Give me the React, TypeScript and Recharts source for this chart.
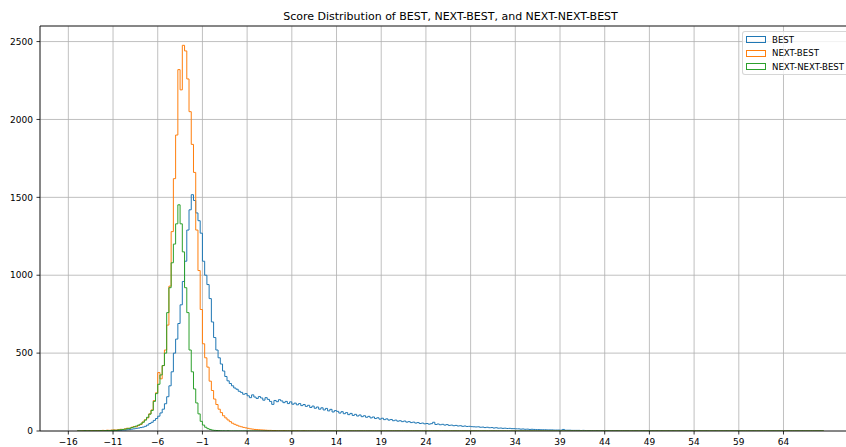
import React from 'react';
import { LineChart, Line, XAxis, YAxis, CartesianGrid, ReferenceLine } from 'recharts';

// Histogram bins shared by all three series: left edge of bin i is BIN_START + i * BIN_WIDTH
const BIN_START = -15;
const BIN_WIDTH = 0.25;

// Counts per bin for the best score
const BEST = [
  0, 0, 0, 1, 0, 1, 1, 0, 1, 1,
  2, 1, 2, 2, 3, 2, 3, 4, 4, 5,
  6, 6, 8, 9, 12, 14, 17, 19, 22, 25,
  30, 38, 48, 56, 68, 80, 95, 116, 140, 175,
  220, 290, 380, 500, 590, 690, 810, 960, 1090, 1290,
  1420, 1517, 1480, 1400, 1350, 1270, 1090, 1000, 940, 850,
  700, 600, 520, 470, 430, 385, 350, 322, 305, 290,
  276, 268, 255, 248, 236, 240, 226, 214, 232, 218,
  209, 221, 212, 198, 214, 203, 190, 171, 196, 188,
  201, 193, 182, 190, 176, 187, 172, 179, 168, 176,
  163, 170, 158, 165, 151, 160, 146, 154, 140, 149,
  135, 145, 129, 139, 122, 131, 126, 115, 124, 111,
  118, 105, 113, 100, 107, 96, 103, 92, 98, 88,
  94, 84, 90, 80, 85, 76, 82, 73, 78, 70,
  74, 66, 70, 63, 66, 60, 64, 57, 60, 54,
  57, 51, 54, 48, 51, 46, 48, 44, 47, 56,
  42, 45, 40, 43, 38, 41, 36, 38, 34, 36,
  32, 34, 30, 32, 29, 30, 28, 27, 26, 27,
  24, 25, 22, 24, 21, 22, 19, 21, 18, 19,
  17, 18, 16, 17, 15, 15, 14, 14, 12, 13,
  11, 12, 10, 11, 10, 9, 9, 8, 8, 8,
  7, 7, 7, 6, 6, 6, 5, 10, 5, 5,
  5, 4, 4, 4, 4, 3, 4, 3, 3, 3,
  3, 2, 3, 2, 2, 2, 2, 2, 1, 2,
  1, 2, 1, 1, 1, 1, 1, 0, 1, 1,
  1, 0, 1, 1, 0, 1, 0, 1, 0, 1,
  0, 1, 0, 0, 1, 0, 1, 0, 0, 1,
  0, 0, 1, 0, 1, 0, 0, 0, 1, 0,
  0, 1, 0, 0, 0, 1, 0, 0, 0, 0,
  1, 0, 0, 0, 0, 1, 0, 0, 0, 0,
  0, 0, 1, 0, 0, 0, 0, 0, 0, 0,
  0, 1, 0, 0, 0, 0, 0, 0, 0, 0,
  0, 0, 0, 0, 1, 0, 0, 0, 0, 0,
  0, 0, 1, 0,
];

// Counts per bin for the second-best score (bins past the end are empty)
const NEXT_BEST = [
  0, 0, 1, 0, 1, 1, 2, 1, 2, 3,
  2, 4, 3, 5, 4, 6, 7, 6, 9, 11,
  10, 14, 18, 16, 24, 29, 27, 36, 42, 58,
  72, 84, 110, 135, 195, 245, 375, 335, 420, 520,
  680, 930, 1280, 1620, 1900, 2320, 2190, 2476, 2440, 2260,
  2050, 1840, 1660, 1290, 1030, 780, 560, 470, 410, 320,
  260, 205, 170, 140, 118, 98, 84, 71, 60, 50,
  43, 37, 31, 27, 23, 20, 17, 14, 12, 10,
  9, 8, 7, 6, 5, 4, 4, 3, 3, 2,
  2, 1, 2, 1, 1, 0, 1, 0, 1, 0,
  0, 1, 0, 0,
];

// Counts per bin for the third-best score (bins past the end are empty)
const NEXT_NEXT_BEST = [
  0, 0, 0, 1, 0, 1, 0, 1, 1, 1,
  2, 1, 2, 3, 2, 4, 5, 4, 7, 8,
  10, 12, 15, 18, 22, 26, 32, 38, 45, 56,
  70, 88, 108, 132, 190, 240, 300, 360, 420, 500,
  760, 920, 1080, 1200, 1330, 1452, 1330, 1150, 920, 760,
  520, 380, 270, 180, 110, 62, 38, 24, 15, 10,
  6, 4, 3, 2, 1, 1, 0, 1, 0, 0,
];

const X_TICKS = [-16, -11, -6, -1, 4, 9, 14, 19, 24, 29, 34, 39, 44, 49, 54, 59, 64];
const Y_TICKS = [0, 500, 1000, 1500, 2000, 2500];
const X_DOMAIN: [number, number] = [-19.17, 72.67];
const Y_MAX = 2600;

const TITLE = 'Score Distribution of BEST, NEXT-BEST, and NEXT-NEXT-BEST';

const SERIES = [
  { key: 'best', name: 'BEST', color: '#1f77b4', values: BEST },
  { key: 'nextBest', name: 'NEXT-BEST', color: '#ff7f0e', values: NEXT_BEST },
  { key: 'nextNextBest', name: 'NEXT-NEXT-BEST', color: '#2ca02c', values: NEXT_NEXT_BEST },
];

// One row per bin edge; the final edge repeats the last bin so the step closes.
const binCount = Math.max(...SERIES.map((s) => s.values.length));
const rows: Record<string, number>[] = [];
for (let i = 0; i <= binCount; i++) {
  const row: Record<string, number> = { x: BIN_START + i * BIN_WIDTH };
  const idx = Math.min(i, binCount - 1);
  for (const s of SERIES) row[s.key] = s.values[idx] ?? 0;
  rows.push(row);
}

const FONT = '"DejaVu Sans", sans-serif';
const fmt = (v: number) => String(v).replace('-', '\u2212');

const CHART_W = 900;
const CHART_H = 462;
const PLOT_LEFT = 40;
const PLOT_RIGHT = 861;
const PLOT_TOP = 26;
const X_AXIS_H = 31;

export default function App() {
  return (
    <div
      style={{
        position: 'absolute',
        left: 0,
        top: 0,
        width: 846,
        height: 447,
        overflow: 'hidden',
        background: '#fff',
        fontFamily: FONT,
      }}
    >
      <LineChart
        width={CHART_W}
        height={CHART_H}
        data={rows}
        margin={{ top: PLOT_TOP, right: CHART_W - PLOT_RIGHT, bottom: 0, left: 0 }}
      >
        <CartesianGrid stroke="#b0b0b0" strokeWidth={0.8} />
        <XAxis
          dataKey="x"
          type="number"
          domain={X_DOMAIN}
          allowDataOverflow
          ticks={X_TICKS}
          interval={0}
          tickFormatter={fmt}
          height={X_AXIS_H}
          tickSize={3.5}
          tickMargin={4.5}
          axisLine={{ stroke: '#000', strokeWidth: 0.8 }}
          tickLine={{ stroke: '#000', strokeWidth: 0.8 }}
          tick={{ fontSize: 9, fill: '#000', fontFamily: FONT }}
        />
        <YAxis
          type="number"
          domain={[0, Y_MAX]}
          allowDataOverflow
          ticks={Y_TICKS}
          interval={0}
          width={PLOT_LEFT}
          tickSize={3.5}
          tickMargin={3.5}
          axisLine={{ stroke: '#000', strokeWidth: 0.8 }}
          tickLine={{ stroke: '#000', strokeWidth: 0.8 }}
          tick={{ fontSize: 9, fill: '#000', fontFamily: FONT }}
        />
        <ReferenceLine y={Y_MAX} stroke="#000" strokeWidth={0.8} />
        {SERIES.map((s) => (
          <Line
            key={s.key}
            dataKey={s.key}
            name={s.name}
            type="stepAfter"
            stroke={s.color}
            strokeWidth={1}
            dot={false}
            activeDot={false}
            isAnimationActive={false}
          />
        ))}
      </LineChart>

      <div
        style={{
          position: 'absolute',
          left: PLOT_LEFT,
          width: PLOT_RIGHT - PLOT_LEFT,
          top: 10,
          textAlign: 'center',
          fontSize: 11,
          lineHeight: '13px',
          color: '#000',
        }}
      >
        {TITLE}
      </div>

      <div
        style={{
          position: 'absolute',
          left: 742,
          top: 31,
          width: 114,
          height: 44,
          boxSizing: 'border-box',
          background: 'rgba(255,255,255,0.8)',
          border: '1px solid rgba(204,204,204,0.8)',
          borderRadius: 3,
        }}
      >
        {SERIES.map((s, i) => (
          <div
            key={s.key}
            style={{
              position: 'absolute',
              left: 3,
              top: 1 + i * 13.7,
              height: 13,
              display: 'flex',
              alignItems: 'center',
              whiteSpace: 'nowrap',
            }}
          >
            <span
              style={{
                display: 'inline-block',
                width: 20,
                height: 7,
                boxSizing: 'border-box',
                border: `1px solid ${s.color}`,
                marginRight: 6,
              }}
            />
            <span style={{ fontSize: 8.6, color: '#000' }}>{s.name}</span>
          </div>
        ))}
      </div>
    </div>
  );
}
